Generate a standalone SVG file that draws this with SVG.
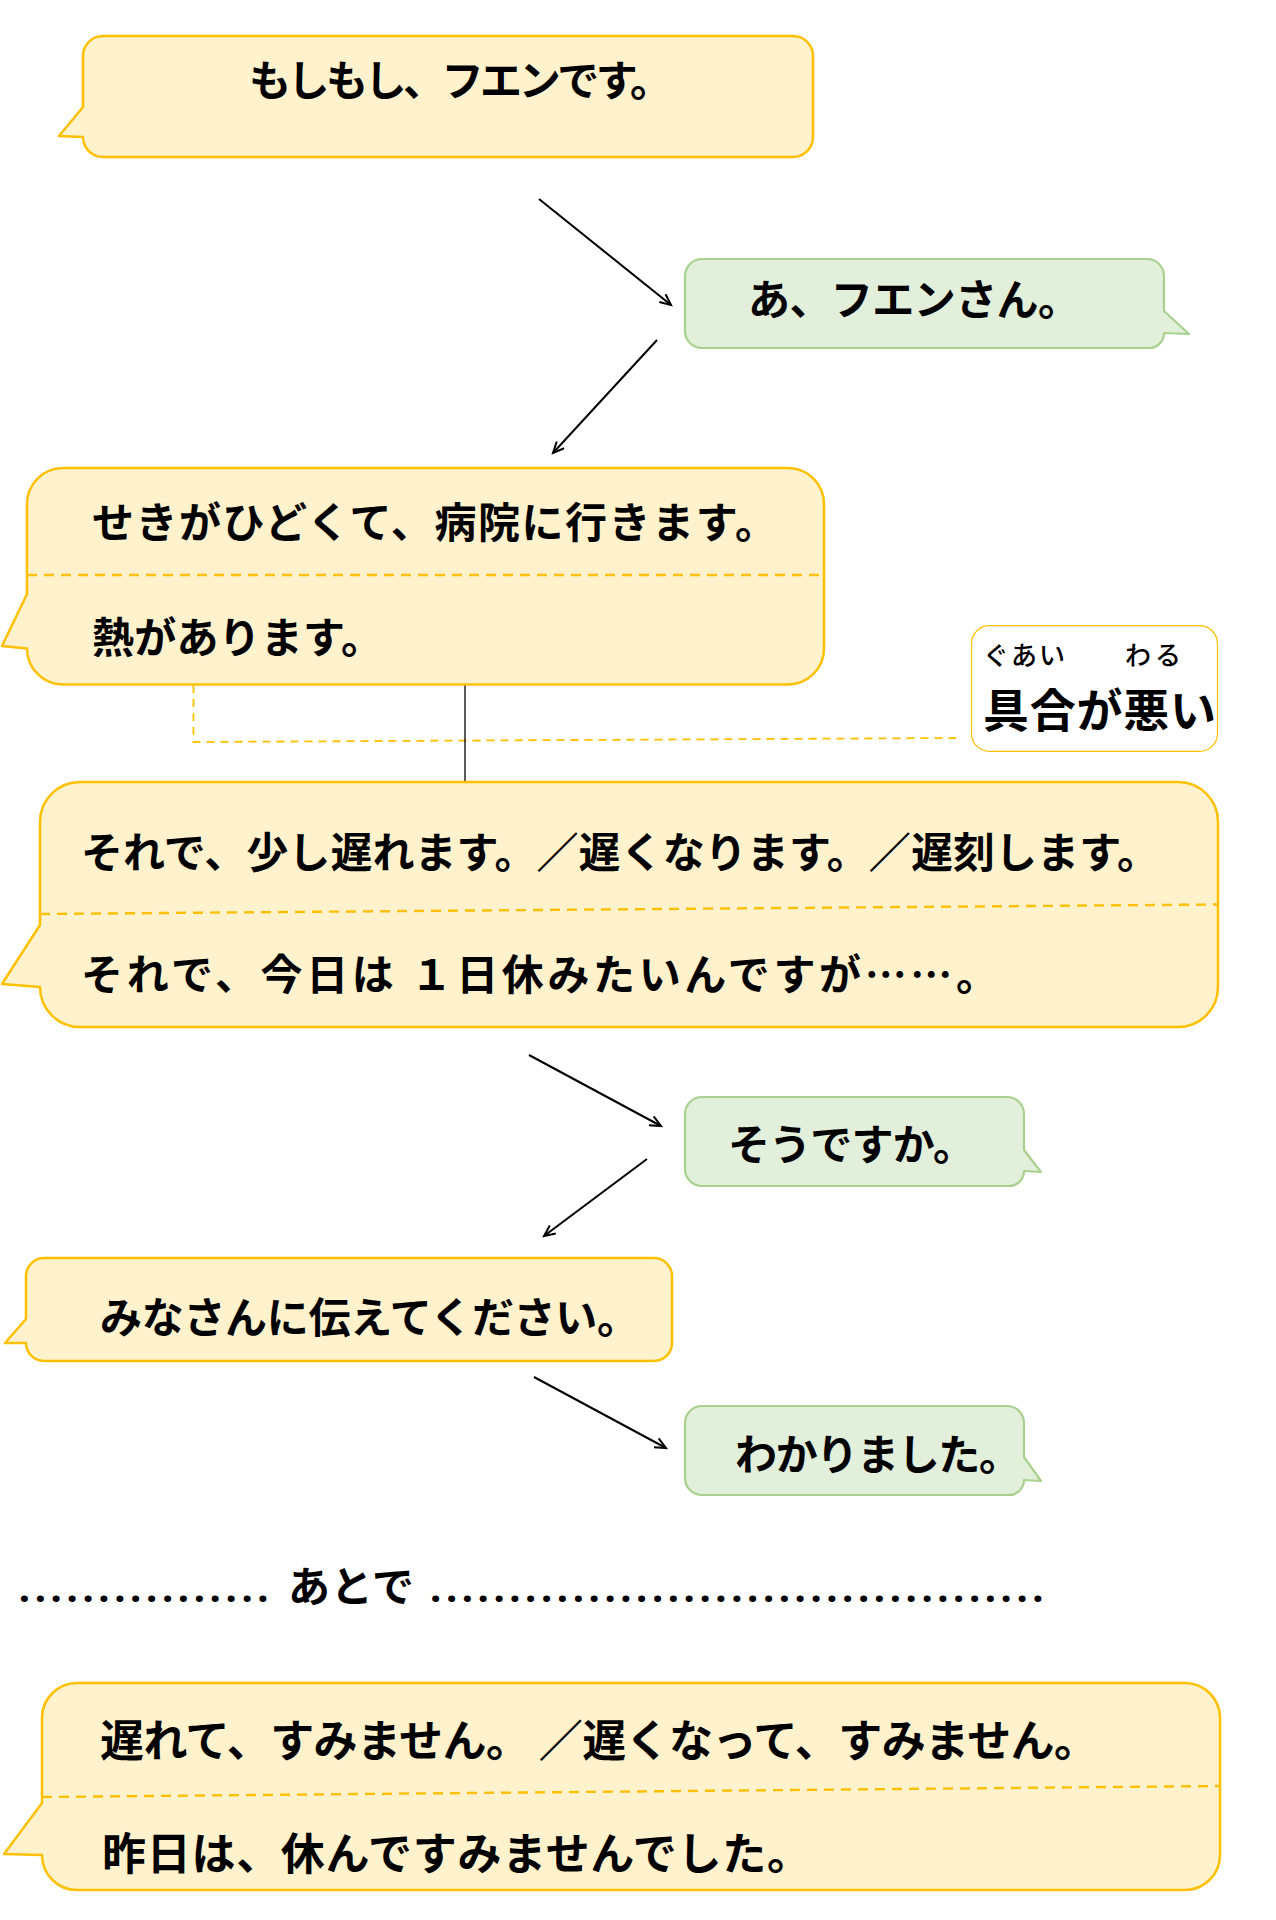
<svg xmlns="http://www.w3.org/2000/svg" width="1276" height="1920" viewBox="0 0 1276 1920">
<defs>
<style>
.y{fill:#fff2cc;stroke:#ffc000;stroke-width:2.5;stroke-linejoin:round}
.g{fill:#e2efda;stroke:#a9d18e;stroke-width:2.2;stroke-linejoin:round}
.dv{fill:none;stroke:#ffc000;stroke-width:2.4;stroke-dasharray:10 7}
.t{font-family:"Noto Sans CJK JP","Noto Sans CJK SC",sans-serif;font-weight:700;font-size:42px;fill:#000}
.b{font-size:44px}
.a{fill:none;stroke:#000;stroke-width:2}
.dot{font-family:"Noto Sans","DejaVu Sans",sans-serif;font-weight:700;font-size:40px;fill:#000}
</style>
<marker id="ah" markerUnits="userSpaceOnUse" markerWidth="16" markerHeight="16" refX="12" refY="6" orient="auto" viewBox="0 0 16 16">
<path d="M1,1 L12,6 L1,11" fill="none" stroke="#000" stroke-width="2"/>
</marker>
</defs>
<rect width="1276" height="1920" fill="#fff"/>

<g id="connectors">
<line class="a" x1="539" y1="199" x2="671" y2="305" marker-end="url(#ah)"/>
<line class="a" x1="657" y1="340" x2="553" y2="453" marker-end="url(#ah)"/>
<line class="a" x1="529" y1="1055" x2="661" y2="1126" marker-end="url(#ah)"/>
<line class="a" x1="647" y1="1159" x2="544" y2="1236" marker-end="url(#ah)"/>
<line class="a" x1="534" y1="1377" x2="666" y2="1448" marker-end="url(#ah)"/>
<path d="M193.5,685 V742 L956,738" fill="none" stroke="#ffc000" stroke-width="1.8" stroke-dasharray="8 6"/>
<line x1="465" y1="684.5" x2="465" y2="781.5" stroke="#000" stroke-width="1.3"/>
</g>

<g id="n1">
<path class="y" d="M103,36 H793 A20,20 0 0 1 813,56 V137 A20,20 0 0 1 793,157 H103 A20,20 0 0 1 83,137 L59,136 L83,107 V56 A20,20 0 0 1 103,36 Z"/>
<text class="t" x="249" y="96" textLength="423" lengthAdjust="spacing">もしもし、フエンです。</text>
</g>

<g id="n2">
<path class="g" d="M702,259 H1147 A17,17 0 0 1 1164,276 V311 L1189,334 L1164,333 A15,15 0 0 1 1149,348 H702 A17,17 0 0 1 685,331 V276 A17,17 0 0 1 702,259 Z"/>
<text class="t" x="748" y="315" textLength="332" lengthAdjust="spacing">あ、フエンさん。</text>
</g>

<g id="n3">
<path class="y" d="M63,468 H788 A36,36 0 0 1 824,504 V648.5 A36,36 0 0 1 788,684.5 H63 A36,36 0 0 1 27,648.5 L2,646 L27,594 V504 A36,36 0 0 1 63,468 Z"/>
<line class="dv" x1="27" y1="575" x2="824" y2="575"/>
<text class="t" x="92" y="538" textLength="685" lengthAdjust="spacing">せきがひどくて、病院に行きます。</text>
<text class="t" x="92" y="653" textLength="291" lengthAdjust="spacing">熱があります。</text>
</g>

<g id="n4">
<rect x="971.5" y="625.7" width="246" height="125.7" rx="18" ry="18" fill="#fff" stroke="#ffc000" stroke-width="1.2"/>
<text class="t" style="font-size:26px;font-weight:500" x="983" y="665" textLength="82" lengthAdjust="spacing">ぐあい</text>
<text class="t" style="font-size:26px;font-weight:500" x="1125" y="665" textLength="56" lengthAdjust="spacing">わる</text>
<text class="t" style="font-size:46px" x="983" y="727" textLength="233" lengthAdjust="spacing">具合が悪い</text>
</g>

<g id="n5">
<path class="y" d="M80,782 H1178 A40,40 0 0 1 1218,822 V987 A40,40 0 0 1 1178,1027 H80 A40,40 0 0 1 40,987 L2,984 L40,925 V822 A40,40 0 0 1 80,782 Z"/>
<line class="dv" x1="40" y1="914" x2="1218" y2="904.5"/>
<text class="t" x="81" y="868" textLength="1078" lengthAdjust="spacing">それで、少し遅れます。／遅くなります。／遅刻します。</text>
<text class="t" x="81" y="990" textLength="917" lengthAdjust="spacing">それで、今日は １日休みたいんですが……。</text>
</g>

<g id="n6">
<path class="g" d="M702,1097 H1007 A17,17 0 0 1 1024,1114 V1150 L1041,1172 L1024,1171 A15,15 0 0 1 1009,1186 H702 A17,17 0 0 1 685,1169 V1114 A17,17 0 0 1 702,1097 Z"/>
<text class="t" x="728" y="1160" textLength="247" lengthAdjust="spacing">そうですか。</text>
</g>

<g id="n7">
<path class="y" d="M44,1258 H654 A18,18 0 0 1 672,1276 V1343 A18,18 0 0 1 654,1361 H44 A18,18 0 0 1 26,1343 L5,1343 L26,1319 V1276 A18,18 0 0 1 44,1258 Z"/>
<text class="t" x="100" y="1333" textLength="539" lengthAdjust="spacing">みなさんに伝えてください。</text>
</g>

<g id="n8">
<path class="g" d="M702,1406 H1007 A17,17 0 0 1 1024,1423 V1457 L1041,1481 L1024,1480 A15,15 0 0 1 1009,1495 H702 A17,17 0 0 1 685,1478 V1423 A17,17 0 0 1 702,1406 Z"/>
<text class="t" x="735" y="1470" textLength="286" lengthAdjust="spacing">わかりました。</text>
</g>

<g id="n9">
<text class="dot" text-anchor="middle" y="1601.5" x="24.4 40.3 56.2 72.1 88.0 103.9 119.8 135.7 151.6 167.5 183.4 199.3 215.2 231.1 247.0 262.9">................</text>
<text class="t" x="288" y="1602" textLength="126" lengthAdjust="spacing">あとで</text>
<text class="dot" text-anchor="middle" y="1601.5" x="435.6 451.5 467.3 483.2 499.0 514.9 530.7 546.6 562.4 578.3 594.1 610.0 625.8 641.7 657.5 673.4 689.2 705.1 720.9 736.8 752.6 768.5 784.3 800.2 816.0 831.9 847.7 863.6 879.4 895.3 911.1 927.0 942.8 958.7 974.5 990.4 1006.2 1022.1 1037.9">.......................................</text>
</g>

<g id="n10">
<path class="y" d="M77,1683 H1185 A35,35 0 0 1 1220,1718 V1855 A35,35 0 0 1 1185,1890 H77 A35,35 0 0 1 42,1855 L4,1854 L42,1803 V1718 A35,35 0 0 1 77,1683 Z"/>
<line class="dv" x1="42" y1="1797" x2="1220" y2="1786"/>
<text class="t b" x="100" y="1757" textLength="998" lengthAdjust="spacing">遅れて、すみません。 ／遅くなって、すみません。</text>
<text class="t b" x="102" y="1870" textLength="709" lengthAdjust="spacing">昨日は、休んですみませんでした。</text>
</g>
</svg>
